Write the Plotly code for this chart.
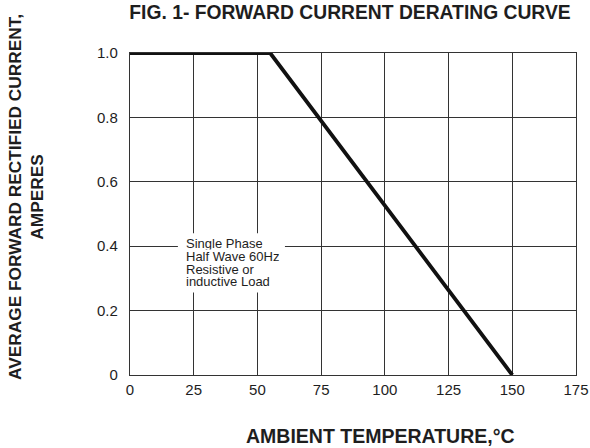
import plotly.graph_objects as go

# Data
temp_c = [0, 55, 150]
current_a = [1.0, 1.0, 0.0]
x_ticks = [0, 25, 50, 75, 100, 125, 150, 175]
y_ticks = [0, 0.2, 0.4, 0.6, 0.8, 1.0]
y_tick_labels = ["0", "0.2", "0.4", "0.6", "0.8", "1.0"]
note_lines = ["Single Phase", "Half Wave 60Hz", "Resistive or", "inductive Load"]

FONT = "Liberation Sans, Arial, sans-serif"
TXT = "#1e1e1e"
W, H = 590, 448
ML, MR, MT, MB = 130, 14, 53, 73
PW, PH = W - ML - MR, H - MT - MB


def px_to_paper(px, py):
    return (px - ML) / PW, (H - MB - py) / PH


fig = go.Figure()
fig.add_trace(go.Scatter(
    x=temp_c, y=current_a, mode="lines",
    line=dict(color="#111111", width=3.8),
    hoverinfo="skip", showlegend=False,
))

# white background of the note box (covers grid lines)
fig.add_shape(type="rect", xref="x", yref="y", x0=18.8, x1=60.8, y0=0.256, y1=0.44,
              fillcolor="white", line=dict(width=0), layer="between")

line_top = 0.409
line_step = 0.0395
for i, ln in enumerate(note_lines):
    fig.add_annotation(
        x=21.6, y=line_top - i * line_step, xref="x", yref="y",
        xanchor="left", yanchor="middle", text=ln, showarrow=False,
        height=12.4, borderpad=0, valign="middle",
        font=dict(family=FONT, size=13, color=TXT),
    )

fig.update_layout(
    width=W, height=H,
    margin=dict(l=ML, r=MR, t=MT, b=MB, autoexpand=False),
    paper_bgcolor="white", plot_bgcolor="white",
    title=dict(
        text="<b>FIG. 1- FORWARD CURRENT DERATING CURVE</b>",
        x=350 / W, xanchor="center", y=1 - 12 / H, yanchor="middle",
        xref="container", yref="container",
        font=dict(family=FONT, size=19.3, color=TXT),
    ),
    font=dict(family=FONT, size=14, color=TXT),
)

ax, ay = px_to_paper(380, 436)
fig.add_annotation(
    x=ax, y=ay, xref="paper", yref="paper",
    text="<b>AMBIENT TEMPERATURE,°C</b>", showarrow=False,
    xanchor="center", yanchor="middle",
    font=dict(family=FONT, size=19.5, color=TXT),
)
bx, by = px_to_paper(26, 197)
fig.add_annotation(
    x=bx, y=by, xref="paper", yref="paper",
    text="<b>AVERAGE FORWARD RECTIFIED CURRENT,<br>AMPERES</b>", showarrow=False,
    textangle=-90, xanchor="center", yanchor="middle",
    font=dict(family=FONT, size=17.3, color=TXT),
)

fig.update_xaxes(
    range=[0, 175], tickvals=x_ticks, ticktext=[str(v) for v in x_ticks],
    showgrid=True, gridcolor="#333333", gridwidth=1.2,
    showline=True, linecolor="#333333", linewidth=1.2, mirror=True,
    zeroline=False, ticks="", ticklabelstandoff=1, automargin=False,
    tickfont=dict(family=FONT, size=15, color=TXT),
)
fig.update_yaxes(
    range=[0, 1.0], tickvals=y_ticks, ticktext=y_tick_labels,
    showgrid=True, gridcolor="#333333", gridwidth=1.2,
    showline=True, linecolor="#333333", linewidth=1.2, mirror=True,
    zeroline=False, ticks="", ticklabelstandoff=8, automargin=False,
    tickfont=dict(family=FONT, size=15, color=TXT),
)

fig.write_html("out.html", config={"displayModeBar": False},
               post_script="document.body.style.margin='0';")
